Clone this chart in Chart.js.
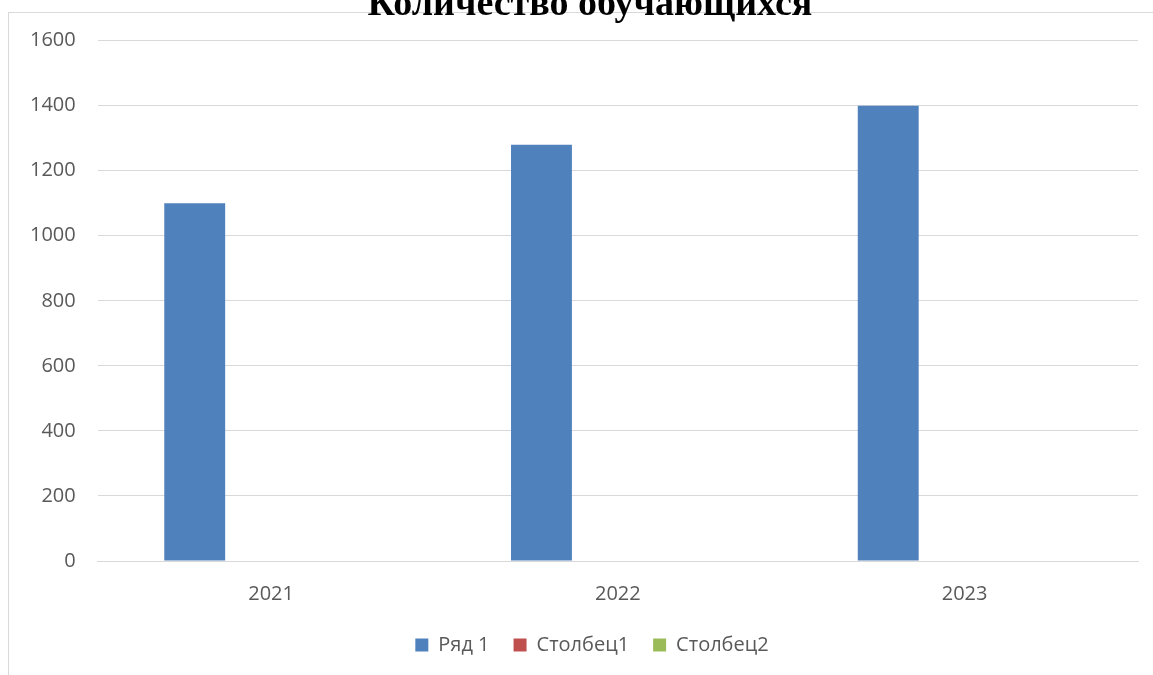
<!DOCTYPE html>
<html>
<head>
<meta charset="utf-8">
<script src="https://cdn.jsdelivr.net/npm/chart.js@4"></script>
<style>
  html, body { margin: 0; padding: 0; background: #fff; overflow: hidden; }
  #frame { position: absolute; left: 8px; top: 12px; width: 1200px; height: 700px; border: 1px solid #d9d9d9; }
  #wrap { position: absolute; left: 0; top: -18px; width: 1153px; height: 693px; }
</style>
</head>
<body>
<div id="frame"></div>
<div id="wrap"><canvas id="chart"></canvas></div>
<script>
// Data
const years = ['2021', '2022', '2023'];
const row1 = [1100, 1280, 1400];
const col1 = [null, null, null];
const col2 = [null, null, null];
const yTicks = [0, 200, 400, 600, 800, 1000, 1200, 1400, 1600];

const textColor = '#595959';
const gridColor = '#d9d9d9';
const labelFont = { family: '"Open Sans", sans-serif', size: 20 };

// pull the year labels and legend a bit closer, and nudge title/legend right
const tweaks = {
  id: 'tweaks',
  beforeInit(chart) {
    chart.options.scales.x.afterFit = (s) => { s.height -= 8; };
  },
  afterLayout(chart) {
    if (chart.titleBlock) chart.titleBlock.left += 34;
    if (chart.legend) chart.legend.left += 38;
  }
};

new Chart(document.getElementById('chart'), {
  type: 'bar',
  data: {
    labels: years,
    datasets: [
      { label: 'Ряд 1', data: row1, backgroundColor: '#4f81bd' },
      { label: 'Столбец1', data: col1, backgroundColor: '#c0504d' },
      { label: 'Столбец2', data: col2, backgroundColor: '#9bbb59' }
    ]
  },
  options: {
    responsive: true,
    maintainAspectRatio: false,
    animation: false,
    categoryPercentage: 0.661,
    barPercentage: 0.797,
    layout: { padding: { left: 8, right: 15, top: 0, bottom: 10 } },
    scales: {
      x: {
        grid: { display: false },
        border: { display: true, color: gridColor },
        ticks: { color: textColor, font: labelFont, padding: 13 }
      },
      y: {
        min: 0,
        max: yTicks[yTicks.length - 1],
        afterBuildTicks: (s) => { s.ticks = yTicks.map(v => ({ value: v })); },
        grid: { color: gridColor, lineWidth: 1, drawTicks: false },
        border: { display: false },
        ticks: { color: textColor, font: labelFont, padding: 22, callback: (v) => String(v) }
      }
    },
    plugins: {
      title: {
        display: true,
        text: 'Количество обучающихся',
        color: '#000',
        font: { family: '"Liberation Serif", serif', size: 38, weight: 'bold' },
        padding: { top: 0, bottom: 13 }
      },
      legend: {
        position: 'bottom',
        labels: { color: textColor, font: labelFont, boxWidth: 13, boxHeight: 13, padding: 24 }
      },
      tooltip: { enabled: false }
    }
  },
  plugins: [tweaks]
});
</script>
</body>
</html>
